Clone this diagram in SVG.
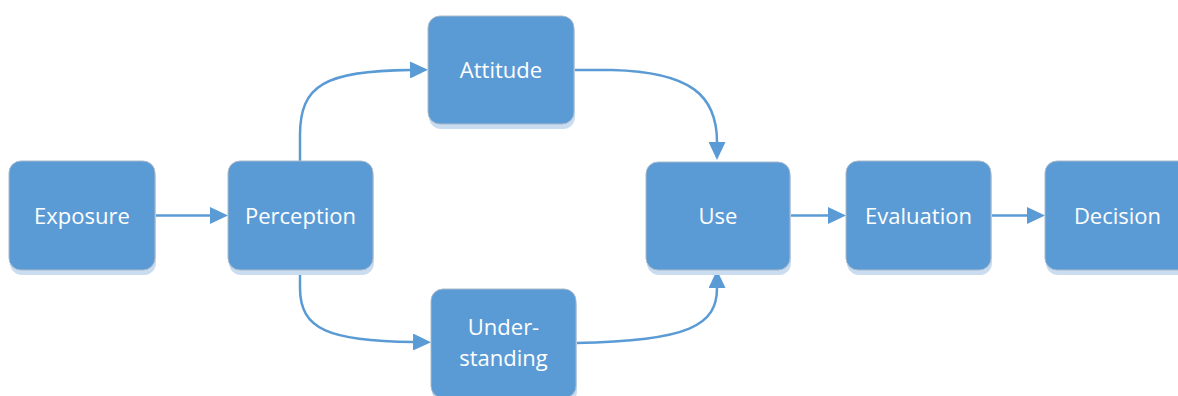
<svg xmlns="http://www.w3.org/2000/svg" width="1178" height="396" viewBox="0 0 1178 396">
<defs>
<marker id="arr" viewBox="0 0 18 17" refX="0" refY="8.5" markerWidth="18" markerHeight="17" markerUnits="userSpaceOnUse" orient="auto">
<path d="M0,0 L18,8.5 L0,17 Z" fill="#5B9BD5"/>
</marker>
<style>
.sh{fill:#c9dcf0;}
.bx{fill:#5B9BD5;stroke:#a9b9ca;stroke-width:1;}
.t{fill:#ffffff;font-family:"Open Sans","Noto Sans",sans-serif;font-size:22px;text-anchor:middle;}
.c{fill:none;stroke:#5B9BD5;stroke-width:2.5;marker-end:url(#arr);}
</style>
</defs>
<rect width="1178" height="396" fill="#ffffff"/>
<g id="connectors">
<path class="c" d="M155,215.5 H210"/>
<path class="c" d="M300,161 V135 C300,85 325,71 410,70"/>
<path class="c" d="M574,70 H612 C690,72 717,95 717,142"/>
<path class="c" d="M300,270 V288 C300,330 330,341 413,342"/>
<path class="c" d="M576,343 C690,341 717,325 717,288"/>
<path class="c" d="M790,215.5 H828"/>
<path class="c" d="M991,215.5 H1027"/>
</g>
<g id="exposure">
<rect class="sh" x="10" y="166" width="146" height="109" rx="12"/>
<rect class="bx" x="9" y="161" width="146" height="109" rx="12"/>
<text class="t" x="82" y="224">Exposure</text>
</g>
<g id="perception">
<rect class="sh" x="229" y="166" width="145" height="109" rx="12"/>
<rect class="bx" x="228" y="161" width="145" height="109" rx="12"/>
<text class="t" x="300.5" y="224">Perception</text>
</g>
<g id="attitude">
<rect class="sh" x="429" y="21" width="146" height="108" rx="12"/>
<rect class="bx" x="428" y="16" width="146" height="108" rx="12"/>
<text class="t" x="501" y="78">Attitude</text>
</g>
<g id="understanding">
<rect class="sh" x="432" y="294" width="145" height="109" rx="12"/>
<rect class="bx" x="431" y="289" width="145" height="109" rx="12"/>
<text class="t" x="503.5" y="335">Under-</text>
<text class="t" x="503.5" y="366">standing</text>
</g>
<g id="use">
<rect class="sh" x="647" y="167" width="144" height="108" rx="12"/>
<rect class="bx" x="646" y="162" width="144" height="108" rx="12"/>
<text class="t" x="718" y="224">Use</text>
</g>
<g id="evaluation">
<rect class="sh" x="847" y="166" width="145" height="109" rx="12"/>
<rect class="bx" x="846" y="161" width="145" height="109" rx="12"/>
<text class="t" x="918.5" y="224">Evaluation</text>
</g>
<g id="decision">
<rect class="sh" x="1046" y="166" width="145" height="109" rx="12"/>
<rect class="bx" x="1045" y="161" width="145" height="109" rx="12"/>
<text class="t" x="1117.5" y="224">Decision</text>
</g>
</svg>
